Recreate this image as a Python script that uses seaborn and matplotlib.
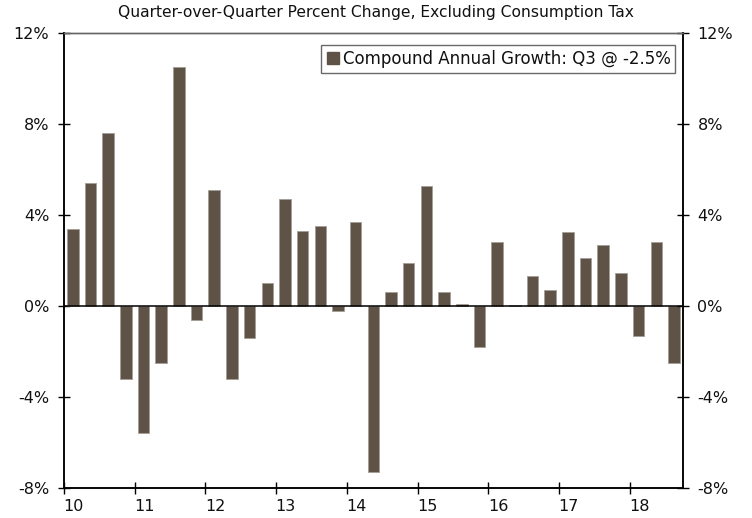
import numpy as np
import pandas as pd
import seaborn as sns
import matplotlib.pyplot as plt
from matplotlib.lines import Line2D

# Quarterly data, 2010 Q1 through 2018 Q3
years = ['10', '11', '12', '13', '14', '15', '16', '17', '18']
quarters = [f"{y}Q{q}" for y in years for q in range(1, 5)][:35]
growth = [3.4, 5.4, 7.6, -3.2,
          -5.6, -2.5, 10.5, -0.6,
          5.1, -3.2, -1.4, 1.0,
          4.7, 3.3, 3.5, -0.2,
          3.7, -7.3, 0.6, 1.9,
          5.3, 0.6, 0.1, -1.8,
          2.8, 0.05, 1.3, 0.7,
          3.25, 2.1, 2.7, 1.45,
          -1.3, 2.8, -2.5]
legend_label = 'Compound Annual Growth: Q3 @ -2.5%'
subtitle = 'Quarter-over-Quarter Percent Change, Excluding Consumption Tax'

bar_color = '#5e5346'

sns.set_style('white')
plt.rcParams['font.family'] = ['DejaVu Sans']
plt.rcParams['text.color'] = '#111111'
plt.rcParams['xtick.color'] = '#111111'
plt.rcParams['ytick.color'] = '#111111'

df = pd.DataFrame({'quarter': quarters, 'growth': growth})

fig = plt.figure(figsize=(7.52, 5.18), dpi=100)
ax = fig.add_axes([0.085, 0.058, 0.823, 0.878])

sns.barplot(data=df, x='quarter', y='growth', color=bar_color, width=0.65,
            edgecolor='#a59e95', linewidth=0.6, saturation=1, ax=ax)

ax.set_xlim(-0.5, len(quarters) - 0.5)
ax.set_ylim(-8, 12)
ax.axhline(0, color='black', lw=1.1, zorder=3)

# year boundaries as ticks, labels at first quarter of each year
ax.set_xticks([i * 4 - 0.5 for i in range(len(years))])
ax.set_xticklabels([])
ax.set_xticks([i * 4 + 0.05 for i in range(len(years))], minor=True)
ax.set_xticklabels(years, minor=True)
ax.tick_params(axis='x', which='major', direction='inout', length=9, width=1, color='black', bottom=True)
ax.tick_params(axis='x', which='minor', length=0, labelsize=11.5, pad=8)
ax.set_xlabel('')
ax.set_ylabel('')

yticks = [-8, -4, 0, 4, 8, 12]
ylabels = [f'{t}%' for t in yticks]
ax.set_yticks(yticks)
ax.set_yticklabels(ylabels)
ax.tick_params(axis='y', direction='inout', length=9, width=1, color='black', left=True, labelsize=11.5, pad=6)

ax2 = ax.twinx()
ax2.set_ylim(-8, 12)
ax2.set_yticks(yticks)
ax2.set_yticklabels(ylabels)
ax2.tick_params(axis='y', direction='inout', length=9, width=1, color='black', right=True, labelsize=11.5, pad=6)

for a in (ax, ax2):
    for side in ('left', 'right', 'bottom'):
        a.spines[side].set_color('black')
        a.spines[side].set_linewidth(1.1)
    a.spines['top'].set_color('#666666')
    a.spines['top'].set_linewidth(1)

handle = Line2D([], [], marker='s', linestyle='none', markersize=8.5,
                markerfacecolor=bar_color, markeredgecolor=bar_color)
leg = ax.legend([handle], [legend_label], loc='upper right',
                bbox_to_anchor=(0.988, 0.975), fontsize=12, frameon=True,
                fancybox=False, handletextpad=0.1, borderpad=0.3,
                handlelength=0.9, borderaxespad=0)
leg.get_frame().set_edgecolor('#444444')
leg.get_frame().set_linewidth(1)

fig.text(0.5, 0.975, subtitle, ha='center', va='center', fontsize=11.2)

fig.savefig('out.png', dpi=100)
